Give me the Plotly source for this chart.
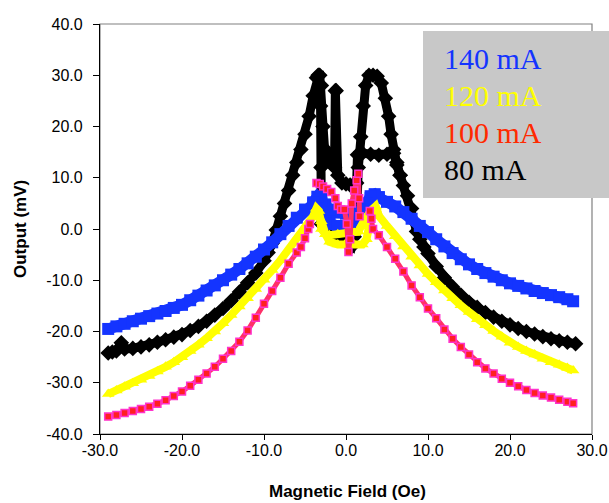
import plotly.graph_objects as go

# ---------------- data ----------------
# 80 mA, black: increasing-field sweep
x80_up = [-29, -28.5, -28, -27.4, -27, -26, -25, -24, -23, -22, -21, -20, -19, -18, -17, -16, -15, -14,
          -13, -12, -11, -10, -9.5, -9, -8.5, -8, -7.5, -7, -6.5, -6, -5.5, -5, -4.5, -4, -3.6, -3.3,
          -3.1, -3.05, -3.0, -2.5, -2, -1.5, -1, -0.5, 0, 0.7, 1.0, 1.3, 1.5, 1.8, 2.1, 2.4, 2.8, 3.3,
          3.8, 4.3, 4.8, 5.2, 5.5, 5.8, 6.2, 6.6, 7.0, 7.5, 8.0, 8.3, 8.6, 9.0, 9.5, 10, 11, 12, 13, 14,
          15, 16, 17, 18, 19, 20, 21, 22, 23, 24, 25, 26, 27, 28]
y80_up = [-24.2, -24.0, -23.8, -22.2, -23.4, -23.3, -23.0, -22.6, -22.1, -21.6, -21.1, -20.6, -19.8,
          -19.0, -18.0, -16.8, -15.5, -14.0, -12.3, -10.5, -8.6, -6.2, -4.6, -2.8, -0.2, 2.5, 5.0, 7.5,
          10.5, 13.0, 15.5, 18.5, 22.0, 26.0, 29.5, 30.0, 24.0, 12.0, 1.0, 0.0, -0.5, -1.0, -1.5, -2.0,
          -2.5, -3.4, -1.5, 3.0, 12.0, 18.0, 24.0, 28.0, 30.0, 30.0, 29.8, 28.5, 25.5, 22.0, 18.5, 15.5,
          12.5, 10.5, 8.5, 6.5, 4.0, 1.5, -0.5, -2.0, -3.5, -4.8, -7.3, -9.5, -11.3, -12.9, -14.3, -15.3,
          -16.3, -17.2, -18.0, -18.7, -19.4, -20.0, -20.5, -21.0, -21.4, -21.8, -22.1, -22.4]
# 80 mA, decreasing-field sweep (central part)
x80_down = [6.6, 6.2, 5.8, 5.0, 4.0, 3.0, 2.0, 1.4, 1.3, 1.0, 0.5, 0, -0.5, -1.0, -1.2, -1.3, -1.4,
            -1.6, -1.9, -2.2, -2.5, -2.8, -3.0, -3.2, -3.4]
y80_down = [10.5, 13.0, 14.8, 14.6, 14.4, 14.6, 14.8, 14.5, 9.0, 8.8, 8.6, 8.8, 9.0, 10.5, 27.0, 27.0,
            12.0, 12.5, 13.5, 15.0, 13.0, 20.0, 28.0, 30.0, 30.0]

# 140 mA, blue
x140_up = [-29, -28, -27, -26, -25, -24, -23, -22, -21, -20, -19, -18, -17, -16, -15, -14, -13, -12, -11,
           -10, -9, -8, -7, -6, -5, -4, -3.4, -3, -2.5, -2, -1, 0, 1, 1.5, 2, 2.5, 3, 3.5, 4, 5, 6, 7, 8,
           9, 10, 11, 12, 13, 14, 15, 16, 17, 18, 19, 20, 21, 22, 23, 24, 25, 26, 27, 27.7]
y140_up = [-19.5, -19.0, -18.5, -18.0, -17.5, -17.0, -16.5, -16.0, -15.4, -14.8, -13.9, -13.0, -12.0,
           -11.0, -10.0, -8.9, -7.8, -6.7, -5.4, -4.0, -2.6, -1.0, 0.6, 2.2, 3.8, 5.0, 5.8, 5.0, 2.5,
           1.0, 0.6, 0.5, 0.8, 1.5, 3.0, 4.8, 6.0, 6.5, 6.2, 5.3, 4.4, 3.3, 2.0, 0.6, -0.6, -2.0, -3.4,
           -4.7, -5.9, -6.9, -7.8, -8.6, -9.3, -10.0, -10.6, -11.1, -11.6, -12.1, -12.5, -12.9, -13.3,
           -13.7, -14.1]
x140_down = [4, 3.5, 3, 2.5, 2, 1, 0, -1, -2, -2.5, -3, -3.5, -4]
y140_down = [6.2, 6.8, 6.4, 5.0, 3.8, 3.0, 3.0, 3.2, 3.8, 4.8, 6.0, 6.3, 5.2]

# 120 mA, yellow
x120_up = [-29, -28, -27, -26, -25, -24, -23, -22, -21, -20, -19, -18, -17, -16, -15, -14, -13, -12, -11,
           -10, -9, -8, -7, -6, -5, -4, -3.6, -3.3, -3.0, -2.5, -2, -1, 0, 1, 1.5, 2, 2.5, 3, 3.6, 4, 5,
           6, 7, 8, 9, 10, 11, 12, 13, 14, 15, 16, 17, 18, 19, 20, 21, 22, 23, 24, 25, 26, 27, 27.7]
y120_up = [-32.2, -31.5, -30.8, -30.1, -29.4, -28.7, -27.8, -26.9, -26.0, -25.0, -23.8, -22.6, -21.3,
           -20.0, -18.4, -16.8, -15.1, -13.5, -11.7, -9.9, -8.0, -6.1, -4.0, -1.7, 0.5, 2.5, 4.0, 3.5,
           0.0, -1.0, -1.2, -1.0, -0.8, -0.8, -0.5, 1.0, 2.5, 3.5, 4.4, 2.6, 0.6, -1.4, -3.4, -5.4, -7.1,
           -8.8, -10.4, -12.0, -13.5, -14.9, -16.2, -17.6, -18.8, -19.9, -21.0, -22.2, -23.0, -23.8,
           -24.5, -25.3, -26.0, -26.5, -27.1, -27.6]
x120_down = [4, 3.6, 3.2, 2.9, 2.5, 2, 1, 0, -1, -2, -2.5, -3.0, -3.6]
y120_down = [2.6, 4.4, 3.5, 0.5, -2.0, -3.0, -3.0, -2.8, -3.0, -2.5, -1.0, 1.5, 4.0]

# 100 mA, pink/red (None = jump with no points in between)
x100 = [-29, -28, -27, -26, -25, -24, -23, -22, -21, -20, -19, -18, -17, -16, -15, -14, -13, -12, -11,
        -10, -9, -8, -7, -6, -5.5, -5, -4.6, -4.4, None, -3.6, -3.2, -2.8, -2.3, -1.8, -1.3, -1.0, -0.6,
        -0.2, 0.1, 0.3, 0.5, 0.7, 1.0, 1.3, 1.5, 1.6, 1.65, None, 2.9, 3.1, 3.3, 4, 5, 6, 7, 8, 9, 10,
        11, 12, 13, 14, 15, 16, 17, 18, 19, 20, 21, 22, 23, 24, 25, 26, 27, 27.7]
y100 = [-36.6, -36.3, -35.9, -35.5, -35.1, -34.7, -34.1, -33.4, -32.6, -31.7, -30.6, -29.4, -28.2,
        -26.9, -25.3, -23.8, -22.0, -19.8, -17.3, -14.6, -12.1, -9.5, -6.8, -4.6, -3.5, -1.8, 0.0, 1.0,
        None, 9.0, 8.8, 8.3, 7.8, 7.2, 6.0, 4.5, 3.8, 3.8, 1.0, -4.5, -2.0, 5.0, 7.5, 9.5, 10.8, 6.0,
        2.5, None, 3.5, 2.0, 0.0, -1.2, -3.5, -5.8, -8.3, -11.0, -13.3, -15.5, -17.4, -19.6, -21.4,
        -23.0, -24.5, -26.0, -27.2, -28.2, -29.2, -30.0, -30.7, -31.4, -32.0, -32.5, -32.9, -33.3,
        -33.7, -34.0]

x_ticks = [-30, -20, -10, 0, 10, 20, 30]
x_tick_labels = ["-30.0", "-20.0", "-10.0", "0.0", "10.0", "20.0", "30.0"]
y_ticks = [-40, -30, -20, -10, 0, 10, 20, 30, 40]
y_tick_labels = ["-40.0", "-30.0", "-20.0", "-10.0", "0.0", "10.0", "20.0", "30.0", "40.0"]

legend_labels = ["140 mA", "120 mA", "100 mA", "80 mA"]
legend_colors = ["#1434ff", "#ffff00", "#ff2a00", "#000000"]

# ---------------- figure ----------------
BLACK = "#000000"
BLUE = "#1434ff"
YELLOW = "#ffff00"

fig = go.Figure()


def add(x, y, color, symbol, msize, lwidth, mline=None):
    marker = dict(symbol=symbol, size=msize, color=color)
    marker["line"] = mline if mline else dict(width=0)
    fig.add_trace(go.Scatter(x=x, y=y, mode="lines+markers", connectgaps=False,
                             line=dict(color=color, width=lwidth), marker=marker,
                             showlegend=False, hoverinfo="skip"))


add(x80_up, y80_up, BLACK, "diamond", 12, 9)
add(x80_down, y80_down, BLACK, "diamond", 12, 9)
add(x140_up, y140_up, BLUE, "square", 12, 11)
add(x140_down, y140_down, BLUE, "square", 12, 11)
add(x120_up, y120_up, YELLOW, "triangle-up", 11, 8)
add(x120_down, y120_down, YELLOW, "triangle-up", 11, 8)
fig.add_trace(go.Scatter(x=x100, y=y100, mode="lines+markers", connectgaps=False,
                         line=dict(color="#ff3068", width=5),
                         marker=dict(symbol="square", size=7, color="#ff2020",
                                     line=dict(color="#ff33cc", width=1.5)),
                         showlegend=False, hoverinfo="skip"))

L, R, T, B = 100, 17, 24, 69
W, H = 609, 503
pw, ph = W - L - R, H - T - B


def px2paper_x(px):
    return (px - L) / pw


def px2paper_y(py):
    return (H - B - py) / ph


shapes = [
    dict(type="rect", xref="paper", yref="paper", x0=0, x1=1, y0=0, y1=1,
         line=dict(color="#808080", width=1.2), layer="below"),
    dict(type="rect", xref="paper", yref="paper",
         x0=px2paper_x(423), x1=px2paper_x(615), y0=px2paper_y(198), y1=px2paper_y(31),
         fillcolor="#c8c8c8", line=dict(width=0), layer="above"),
]

annotations = []
for i, (lab, col) in enumerate(zip(legend_labels, legend_colors)):
    annotations.append(dict(xref="paper", yref="paper", x=px2paper_x(442), y=px2paper_y(59 + i * 36.7),
                            xanchor="left", yanchor="middle", showarrow=False, text=lab,
                            font=dict(family="Liberation Serif, Times New Roman, serif", size=30,
                                      color=col)))
annotations.append(dict(xref="paper", yref="paper", x=px2paper_x(347), y=px2paper_y(492),
                        xanchor="center", yanchor="middle", showarrow=False,
                        text="<b>Magnetic Field (Oe)</b>",
                        font=dict(family="Liberation Sans, Arial, sans-serif", size=17, color="black")))
annotations.append(dict(xref="paper", yref="paper", x=px2paper_x(20), y=px2paper_y(229),
                        xanchor="center", yanchor="middle", showarrow=False, textangle=-90,
                        text="<b>Output (mV)</b>",
                        font=dict(family="Liberation Sans, Arial, sans-serif", size=17, color="black")))

tickfont = dict(family="Liberation Sans, Arial, sans-serif", size=16, color="black")

fig.update_layout(
    width=W, height=H,
    margin=dict(l=L, r=R, t=T, b=B, pad=0, autoexpand=False),
    paper_bgcolor="white", plot_bgcolor="white",
    shapes=shapes, annotations=annotations,
    xaxis=dict(range=[-30, 30], tickvals=x_ticks, ticktext=x_tick_labels, ticks="outside",
               ticklen=5, tickcolor="black", tickwidth=1, showline=True, linecolor="black",
               linewidth=1.2, showgrid=False, zeroline=False, tickfont=tickfont, fixedrange=True,
               automargin=False, ticklabelstandoff=-3),
    yaxis=dict(range=[-40, 40], tickvals=y_ticks, ticktext=y_tick_labels, ticks="outside",
               ticklen=6, tickcolor="black", tickwidth=1, showline=True, linecolor="black",
               linewidth=1.2, showgrid=False, zeroline=False, tickfont=tickfont, fixedrange=True,
               ticklabelstandoff=7, automargin=False),
)

fig.write_html("out.html", config={"displayModeBar": False},
               post_script="document.body.style.margin='0';document.body.style.overflow='hidden';")
